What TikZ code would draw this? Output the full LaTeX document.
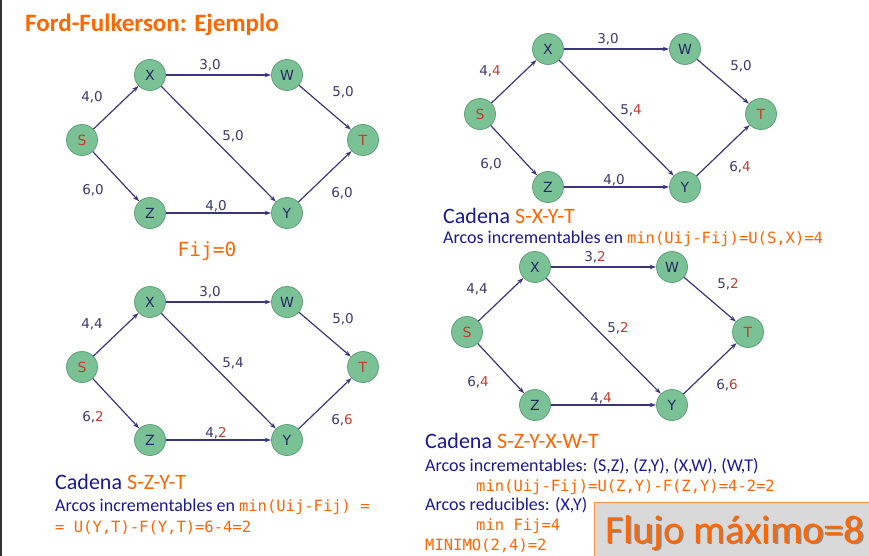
\documentclass[tikz,border=0pt]{standalone}
\usepackage{fontspec}
\setmainfont{Carlito}
\setmonofont{DejaVu Sans Mono}
\newfontfamily\verdana{DejaVu Sans}
\usetikzlibrary{arrows.meta}

\definecolor{naranja}{RGB}{255,102,0}
\definecolor{azul}{RGB}{25,25,150}
\definecolor{azulosc}{RGB}{40,40,100}
\definecolor{verde}{RGB}{122,194,150}
\definecolor{verdeosc}{RGB}{96,160,120}
\definecolor{arcocol}{RGB}{58,54,125}
\definecolor{pesocol}{RGB}{58,58,110}
\definecolor{rojo}{RGB}{200,60,45}
\definecolor{gris}{RGB}{217,217,217}

\tikzset{
  nodo/.style={circle, fill=verde, draw=verdeosc, line width=0.8pt, minimum size=31pt, inner sep=0pt, text=azulosc, font=\verdana\fontsize{14}{15}\selectfont},
  arco/.style={draw=arcocol, line width=1.2pt, -{Stealth[length=6.5pt,width=4.5pt]}},
  peso/.style={text=pesocol, font=\verdana\fontsize{13.5}{14}\selectfont, inner sep=0pt},
  txt/.style={anchor=base west, inner sep=0pt},
}

\newcommand\rj[1]{\textcolor{rojo}{#1}}
\newcommand\mono[1]{\textcolor{naranja}{\fontsize{15.5}{18}\ttfamily #1}}

% one network: labels of S-X, X-W, W-T, X-Y, S-Z, Z-Y, Y-T
\newcommand\grafo[7]{%
  \node[nodo] (s) at (82,140) {\rj{S}};
  \node[nodo] (x) at (150,75) {X};
  \node[nodo] (w) at (287,75) {W};
  \node[nodo] (t) at (363,140) {\rj{T}};
  \node[nodo] (z) at (150,213) {Z};
  \node[nodo] (y) at (287,213) {Y};
  \draw[arco] (s) -- (x);
  \draw[arco] (x) -- (w);
  \draw[arco] (w) -- (t);
  \draw[arco] (x) -- (y);
  \draw[arco] (s) -- (z);
  \draw[arco] (z) -- (y);
  \draw[arco] (y) -- (t);
  \node[peso] (psx) at (92,97) {#1};
  \node[peso] (pxw) at (210,65) {#2};
  \node[peso] (pwt) at (343,92) {#3};
  \node[peso] (pxy) at (233,136) {#4};
  \node[peso] (psz) at (93,190) {#5};
  \node[peso] (pzy) at (216,206) {#6};
  \node[peso] (pyt) at (342,193) {#7};
}

\begin{document}
\begin{tikzpicture}[x=1pt, y=-1pt]
  \useasboundingbox (0,0) rectangle (869,556);
  \draw[black!80, line width=1.5pt] (0.75,0) -- (0.75,556);

  \node[txt, text=naranja, font=\bfseries\fontsize{25}{28}\selectfont] (titulo) at (25,32) {Ford-Fulkerson: Ejemplo};

  % Fij=0
  \begin{scope}[name prefix=a-]
    \grafo{4,0}{3,0}{5,0}{5,0}{6,0}{4,0}{6,0}
  \end{scope}
  \node[anchor=base, inner sep=0pt, text=naranja, font=\fontsize{19.5}{22}\ttfamily] (fij) at (207,256) {Fij=0};

  % S-X-Y-T
  \begin{scope}[shift={(398,-26)}, name prefix=b-]
    \grafo{4,\rj{4}}{3,0}{5,0}{5,\rj{4}}{6,0}{4,0}{6,\rj{4}}
  \end{scope}
  \node[txt, text=azul, font=\fontsize{22}{24}\selectfont] (cadb) at (443,223) {Cadena \textcolor{naranja}{S-X-Y-T}};
  \node[txt, text=azul, font=\fontsize{18}{20}\selectfont] (arcb) at (443,243) {Arcos incrementables en \mono{min(Uij-Fij)=U(S,X)=4}};

  % S-Z-Y-T
  \begin{scope}[shift={(0,227)}, name prefix=c-]
    \grafo{4,4}{3,0}{5,0}{5,4}{6,\rj{2}}{4,\rj{2}}{6,\rj{6}}
  \end{scope}
  \node[txt, text=azul, font=\fontsize{22}{24}\selectfont] (cadc) at (55,489) {Cadena \textcolor{naranja}{S-Z-Y-T}};
  \node[txt, text=azul, font=\fontsize{18}{20}\selectfont] (arcc) at (55,511) {Arcos incrementables en \mono{min(Uij-Fij) =}};
  \node[txt] (minc) at (55,532) {\mono{= U(Y,T)-F(Y,T)=6-4=2}};

  % S-Z-Y-X-W-T
  \begin{scope}[shift={(385,192)}, name prefix=d-]
    \grafo{4,4}{3,\rj{2}}{5,\rj{2}}{5,\rj{2}}{6,\rj{4}}{4,\rj{4}}{6,\rj{6}}
  \end{scope}
  \node[txt, text=azul, font=\fontsize{22}{24}\selectfont] (cadd) at (425,448) {Cadena \textcolor{naranja}{S-Z-Y-X-W-T}};
  \node[txt, text=azul, font=\fontsize{18}{20}\selectfont] (arcd) at (425,471) {Arcos incrementables: (S,Z), (Z,Y), (X,W), (W,T)};
  \node[txt] (mind) at (476,491) {\mono{min(Uij-Fij)=U(Z,Y)-F(Z,Y)=4-2=2}};
  \node[txt, text=azul, font=\fontsize{18}{20}\selectfont] (redd) at (425,510) {Arcos reducibles: (X,Y)};
  \node[txt] (fijd) at (476,530) {\mono{min Fij=4}};
  \node[txt] (minimo) at (425,550) {\mono{MINIMO(2,4)=2}};

  % resultado
  \draw[draw=naranja!70, fill=gris, line width=0.8pt] (594,502) rectangle (870,557);
  \node[txt, text=black!45, font=\fontsize{40}{44}\selectfont] (sombra) at (606.5,544.5) {Flujo máximo=8};
  \node[txt, text=naranja, font=\fontsize{40}{44}\selectfont] (flujo) at (605,543) {Flujo máximo=8};
\end{tikzpicture}
\end{document}
